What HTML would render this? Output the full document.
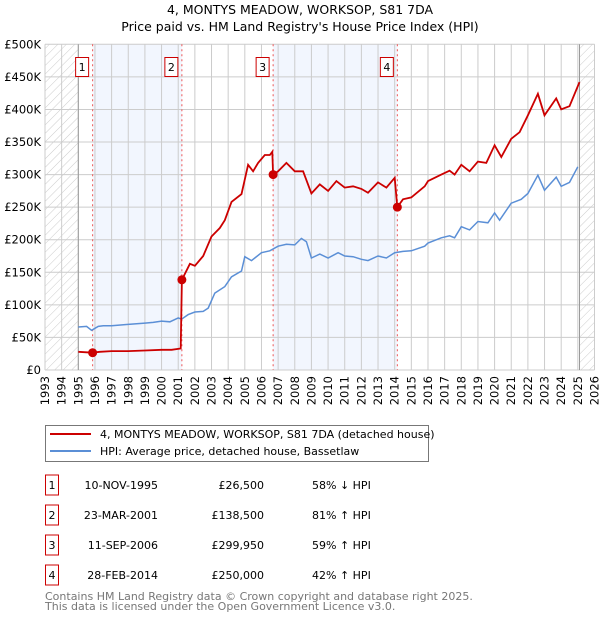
<!DOCTYPE html>
<html><head><meta charset="utf-8"><style>
body{margin:0;background:#fff;font-family:"DejaVu Sans","Liberation Sans",sans-serif}
svg text{font-family:"DejaVu Sans","Liberation Sans",sans-serif}
</style></head><body>
<svg id="c" width="600" height="620" viewBox="0 0 600 620" xmlns="http://www.w3.org/2000/svg">
<defs><pattern id="hatch" width="6" height="6" patternUnits="userSpaceOnUse" patternTransform="rotate(45)"><line x1="0" y1="0" x2="0" y2="6" stroke="#ccc" stroke-width="1"/></pattern></defs>
<text x="300" y="14" text-anchor="middle" font-size="12.5">4, MONTYS MEADOW, WORKSOP, S81 7DA</text>
<text x="300" y="31" text-anchor="middle" font-size="12.5">Price paid vs. HM Land Registry's House Price Index (HPI)</text>
<g id="plot"></g>
<g>
<rect x="45.5" y="425.5" width="383" height="36" fill="#fff" stroke="#777"/>
<line x1="50" y1="434" x2="91" y2="434" stroke="#cc0000" stroke-width="2"/>
<text x="100" y="438" font-size="11">4, MONTYS MEADOW, WORKSOP, S81 7DA (detached house)</text>
<line x1="50" y1="451" x2="91" y2="451" stroke="#5b8fd6" stroke-width="2"/>
<text x="100" y="455" font-size="11">HPI: Average price, detached house, Bassetlaw</text>
</g>
<g id="table"></g>
<text x="45" y="600" font-size="11" fill="#777">Contains HM Land Registry data © Crown copyright and database right 2025.</text>
<text x="45" y="610" font-size="11" fill="#777">This data is licensed under the Open Government Licence v3.0.</text>
</svg>
<script>
const hpiYears=[1995.0,1995.5,1995.8,1996.2,1996.5,1997,1998,1999,1999.5,2000,2000.5,2001,2001.2,2001.6,2002,2002.5,2002.8,2003.2,2003.8,2004.2,2004.8,2005.0,2005.4,2006,2006.5,2007,2007.5,2008,2008.4,2008.7,2009,2009.5,2010,2010.6,2011,2011.5,2012,2012.4,2013,2013.5,2014,2014.5,2015,2015.8,2016,2016.8,2017.3,2017.6,2018,2018.5,2019,2019.6,2020,2020.3,2021,2021.6,2022,2022.6,2023,2023.7,2024,2024.5,2025.0];
const hpiValues=[66,67,61,67,68,68,70,72,73,75,74,80,78,85,89,90,95,118,128,143,152,174,168,180,183,190,193,192,202,197,172,178,172,180,175,174,170,168,175,172,180,182,183,190,195,203,206,203,220,215,228,226,241,230,256,262,271,299,276,296,282,288,312];
const paidYears=[1995.0,1995.86,1996.3,1997,1998,1999,2000,2000.6,2001.15,2001.22,2001.7,2002,2002.5,2003,2003.5,2003.8,2004.2,2004.8,2005.2,2005.5,2005.8,2006.2,2006.5,2006.65,2006.7,2007,2007.5,2008,2008.5,2009,2009.5,2010,2010.5,2011,2011.5,2012,2012.4,2013,2013.5,2014.0,2014.16,2014.5,2015,2015.8,2016,2016.8,2017.3,2017.6,2018,2018.5,2019,2019.5,2020,2020.4,2021,2021.5,2022,2022.6,2023,2023.7,2024,2024.5,2025.1];
const paidValues=[28,26.5,28,29,29,30,31,31,33,138.5,163,160,175,205,218,230,258,270,315,305,318,330,330,335,300,305,318,305,305,271,285,275,290,280,282,278,272,288,280,295,250,262,265,282,290,300,306,300,315,305,320,318,345,327,355,365,391,424,391,417,400,405,442];
const saleYears=[1995.86,2001.22,2006.7,2014.16];
const salePrices=[26500,138500,299950,250000];
const saleLabels=["1","2","3","4"];
const saleDates=["10-NOV-1995","23-MAR-2001","11-SEP-2006","28-FEB-2014"];
const salePriceText=["£26,500","£138,500","£299,950","£250,000"];
const saleHpiText=["58% ↓ HPI","81% ↑ HPI","59% ↑ HPI","42% ↑ HPI"];
const yTicks=[0,50,100,150,200,250,300,350,400,450,500];
const yTickLabels=["£0","£50K","£100K","£150K","£200K","£250K","£300K","£350K","£400K","£450K","£500K"];
const xYears=[1993,1994,1995,1996,1997,1998,1999,2000,2001,2002,2003,2004,2005,2006,2007,2008,2009,2010,2011,2012,2013,2014,2015,2016,2017,2018,2019,2020,2021,2022,2023,2024,2025,2026];

const NS="http://www.w3.org/2000/svg";
const X0=45,X1=594.5,Y0=370,Y1=44.3;
const xs=y=>X0+(y-1993)/(2026-1993)*(X1-X0);
const ys=v=>Y0-v/500*(Y0-Y1);
const plot=document.getElementById('plot');
function mk(tag,attrs,parent){const e=document.createElementNS(NS,tag);for(const k in attrs)e.setAttribute(k,attrs[k]);(parent||plot).appendChild(e);return e;}

let e;
e=mk('rect',{x:xs(saleYears[0]),y:Y1,width:xs(saleYears[1])-xs(saleYears[0]),height:Y0-Y1,fill:'#f2f6fe'});


e=mk('rect',{x:xs(saleYears[2]),y:Y1,width:xs(saleYears[3])-xs(saleYears[2]),height:Y0-Y1,fill:'#f2f6fe'});


e=mk('rect',{x:X0,y:Y1,width:xs(1995)-X0,height:Y0-Y1,fill:'url(#hatch)'});


e=mk('rect',{x:xs(2025.1),y:Y1,width:X1-xs(2025.1),height:Y0-Y1,fill:'url(#hatch)'});



xYears.forEach(yr=>{
  e=mk('line',{x1:xs(yr),x2:xs(yr),y1:Y1,y2:Y0,stroke:'#cccccc','stroke-width':1});
  
  
  const t=mk('text',{transform:`translate(${xs(yr)+4},${Y0+6}) rotate(-90)`,'text-anchor':'end','font-size':11.5});
  t.textContent=yr;
  
  
});
yTicks.forEach((v,i)=>{
  e=mk('line',{x1:X0,x2:X1,y1:ys(v),y2:ys(v),stroke:'#cccccc','stroke-width':1});
  
  
  const t=mk('text',{x:X0-4,y:ys(v)+4,'text-anchor':'end','font-size':11.5});
  t.textContent=yTickLabels[i];
  
  
});
e=mk('line',{x1:xs(1995),x2:xs(1995),y1:Y1,y2:Y0,stroke:'#999'});


e=mk('line',{x1:xs(2025.1),x2:xs(2025.1),y1:Y1,y2:Y0,stroke:'#999'});



saleYears.forEach((yr,i)=>{
  e=mk('line',{x1:xs(yr),x2:xs(yr),y1:Y1,y2:Y0,stroke:'#ee5555','stroke-dasharray':'2,3','stroke-width':1});
  
  
  const g=mk('g',{});
  
  
  mk('rect',{x:xs(yr)-17,y:57.5,width:13,height:19,fill:'#fff',stroke:'#cc0000'},g);
  const t=mk('text',{x:xs(yr)-10.5,y:71,'text-anchor':'middle','font-size':11},g);
  t.textContent=saleLabels[i];
});

const pts=(xa,va)=>xa.map((x,i)=>xs(x).toFixed(1)+','+ys(va[i]).toFixed(1)).join(' ');
e=mk('polyline',{points:pts(hpiYears,hpiValues),fill:'none',stroke:'#5b8fd6','stroke-width':1.5});


e=mk('polyline',{points:pts(paidYears,paidValues),fill:'none',stroke:'#cc0000','stroke-width':1.8});


saleYears.forEach((yr,i)=>{
  e=mk('circle',{cx:xs(yr),cy:ys(salePrices[i]/1000),r:4.5,fill:'#cc0000'});
  
  
});

const tbl=document.getElementById('table');
saleLabels.forEach((l,i)=>{
  const cy=485+i*30;
  const row=mk('g',{},tbl);
  
  
  mk('rect',{x:45.5,y:cy-10,width:13,height:20,fill:'#fff',stroke:'#cc0000'},row);
  let t=mk('text',{x:52,y:cy+4,'text-anchor':'middle','font-size':11},row);t.textContent=l;
  t=mk('text',{x:158,y:cy+4,'text-anchor':'end','font-size':11},row);t.textContent=saleDates[i];
  t=mk('text',{x:264,y:cy+4,'text-anchor':'end','font-size':11},row);t.textContent=salePriceText[i];
  t=mk('text',{x:312,y:cy+4,'font-size':11},row);t.textContent=saleHpiText[i];
});
</script>
</body></html>
